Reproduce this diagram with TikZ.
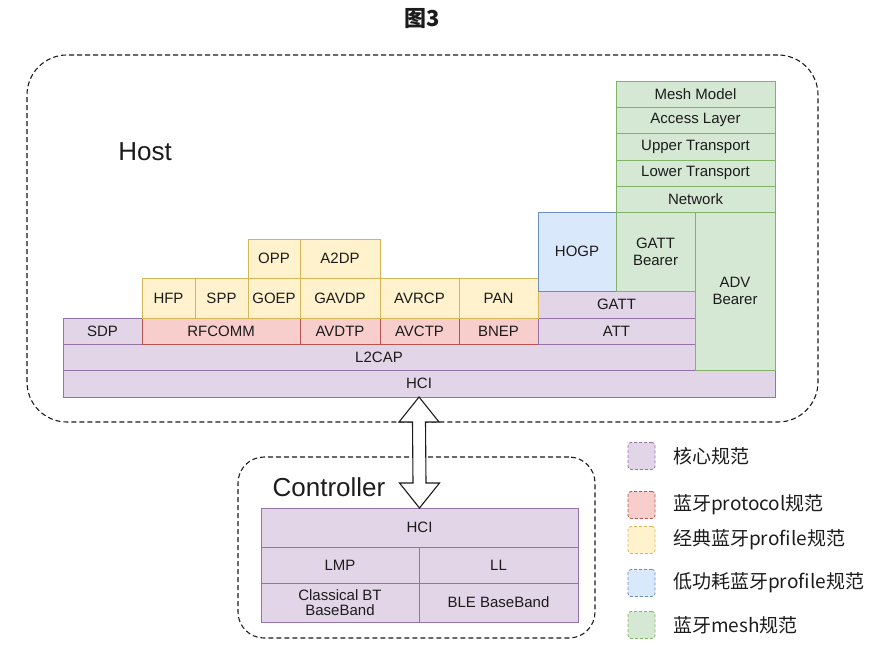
\documentclass[tikz,border=0pt]{standalone}
\usepackage{fontspec}
\setmainfont{Liberation Sans}
\newfontfamily\cjk{Noto Sans CJK SC}
\usetikzlibrary{calc,fit}
\definecolor{btcore}{HTML}{E1D5E7}
\definecolor{btcoreln}{HTML}{9673A6}
\definecolor{btproto}{HTML}{F8CECC}
\definecolor{btprotoln}{HTML}{B85450}
\definecolor{btclassic}{HTML}{FFF2CC}
\definecolor{btclassicln}{HTML}{D6B656}
\definecolor{btle}{HTML}{DAE8FC}
\definecolor{btleln}{HTML}{6C8EBF}
\definecolor{btmesh}{HTML}{D5E8D4}
\definecolor{btmeshln}{HTML}{82B366}
\definecolor{btink}{HTML}{1C1C1C}

\begin{document}
\begin{tikzpicture}[x=1pt, y=-1pt, font=\fontsize{15}{17}\selectfont,
  layer/.style={draw, inner sep=0pt, outer sep=0pt, anchor=north west, align=center, text=btink, line width=0.8pt},
  sz/.style 2 args={minimum width=#1pt, minimum height=#2pt},
  core/.style={layer, fill=btcore, draw=btcoreln},
  proto/.style={layer, fill=btproto, draw=btprotoln},
  classic/.style={layer, fill=btclassic, draw=btclassicln},
  ble/.style={layer, fill=btle, draw=btleln},
  mesh/.style={layer, fill=btmesh, draw=btmeshln},
  group/.style={draw=btink, dash pattern=on 5pt off 3pt, line width=1.1pt, inner sep=0pt},
  grouptxt/.style={font=\fontsize{26}{28}\selectfont, text=btink},
  key/.style={dash pattern=on 3pt off 2pt, rounded corners=3pt, minimum size=27pt, inner sep=0pt, line width=0.8pt},
  keytxt/.style={anchor=west, inner sep=0pt, text=btink, font=\cjk\fontsize{19}{21}\selectfont},
  hollow/.style={draw=btink, line width=1.1pt, fill=white, line join=miter}]
  \useasboundingbox (0,0) rectangle (882,652);
  \node[font=\cjk\bfseries\fontsize{22}{24}\selectfont, text=btink] (title) at (422,19) {图3};

  % host side
  \node[group, rounded corners=40pt, fit={(27,55) (818,422)}] (host) {};
  \node[grouptxt] (hostlbl) at (145,152) {Host};
  \node[core, sz={712}{27}] (hci) at (63,370) {HCI};
  \node[core, sz={632}{26}] (l2cap) at (63,344) {L2CAP};
  \node[core, sz={79}{26}] (sdp) at (63,318) {SDP};
  \node[proto, sz={158}{26}] (rfcomm) at (142,318) {RFCOMM};
  \node[proto, sz={80}{26}] (avdtp) at (300,318) {AVDTP};
  \node[proto, sz={79}{26}] (avctp) at (380,318) {AVCTP};
  \node[proto, sz={79}{26}] (bnep) at (459,318) {BNEP};
  \node[core, sz={157}{26}] (att) at (538,318) {ATT};
  \node[core, sz={157}{27}] (gatt) at (538,291) {GATT};
  \node[classic, sz={53}{40}] (hfp) at (142,278) {HFP};
  \node[classic, sz={53}{40}] (spp) at (195,278) {SPP};
  \node[classic, sz={52}{40}] (goep) at (248,278) {GOEP};
  \node[classic, sz={80}{40}] (gavdp) at (300,278) {GAVDP};
  \node[classic, sz={79}{40}] (avrcp) at (380,278) {AVRCP};
  \node[classic, sz={79}{40}] (pan) at (459,278) {PAN};
  \node[classic, sz={52}{39}] (opp) at (248,239) {OPP};
  \node[classic, sz={80}{39}] (a2dp) at (300,239) {A2DP};
  \node[ble, sz={78}{79}] (hogp) at (538,212) {HOGP};
  \node[mesh, sz={79}{79}] (gattbr) at (616,212) {GATT\\Bearer};
  \node[mesh, sz={80}{158}] (advbr) at (695,212) {ADV\\Bearer};
  \node[mesh, sz={159}{26}] (network) at (616,186) {Network};
  \node[mesh, sz={159}{26}] (lower) at (616,160) {Lower Transport};
  \node[mesh, sz={159}{27}] (upper) at (616,133) {Upper Transport};
  \node[mesh, sz={159}{26}] (access) at (616,107) {Access Layer};
  \node[mesh, sz={159}{26}] (model) at (616,81) {Mesh Model};

  % controller side
  \node[group, rounded corners=26pt, fit={(238,457) (595,638)}] (ctl) {};
  \node[grouptxt] (ctllbl) at (329,487) {Controller};
  \node[core, sz={317}{39}] (chci) at (261,508) {HCI};
  \node[core, sz={158}{36}] (lmp) at (261,547) {LMP};
  \node[core, sz={159}{36}] (ll) at (419,547) {LL};
  \node[core, sz={158}{39}, font=\fontsize{15}{15.5}\selectfont] (bredr) at (261,583) {Classical BT\\BaseBand};
  \node[core, sz={159}{39}] (lebb) at (419,583) {BLE BaseBand};

  \draw[hollow] (hci.south) -- ++(20,25) -- ++(-13.5,0) -- ($(chci.north)+(6.5,-25)$) -- ++(13.5,0)
    -- (chci.north) -- ++(-20,-25) -- ++(13.5,0) -- ($(hci.south)+(-6.5,25)$) -- ++(-13.5,0) -- cycle;

  % legend
  \node[key, fill=btcore, draw=btcoreln] (kcore) at (641.5,456) {};
  \node[keytxt] (tcore) at (673,456) {核心规范};
  \node[key, fill=btproto, draw=btprotoln] (kproto) at (641.5,505) {};
  \node[keytxt] (tproto) at (673,505) {蓝牙protocol规范};
  \node[key, fill=btclassic, draw=btclassicln] (kclassic) at (641.5,540) {};
  \node[keytxt] (tclassic) at (673,540) {经典蓝牙profile规范};
  \node[key, fill=btle, draw=btleln] (kle) at (641.5,583) {};
  \node[keytxt] (tle) at (673,583) {低功耗蓝牙profile规范};
  \node[key, fill=btmesh, draw=btmeshln] (kmesh) at (641.5,625) {};
  \node[keytxt] (tmesh) at (673,625) {蓝牙mesh规范};
\end{tikzpicture}
\end{document}
